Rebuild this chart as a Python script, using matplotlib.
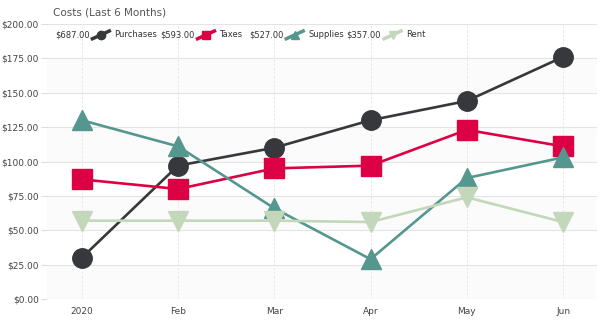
import numpy as np
import matplotlib.pyplot as plt
from matplotlib.lines import Line2D
from matplotlib.ticker import FuncFormatter

months = ['2020', 'Feb', 'Mar', 'Apr', 'May', 'Jun']
purchases = [30, 97, 110, 130, 144, 176]
taxes = [87, 80, 95, 97, 123, 111]
supplies = [130, 111, 66, 29, 88, 103]
rent = [57, 57, 57, 56, 74, 56]

series = [
    ('Purchases', purchases, '#36383c', 'o', 14),
    ('Taxes', taxes, '#dc0045', 's', 14),
    ('Supplies', supplies, '#55978f', '^', 15),
    ('Rent', rent, '#c3d7bb', 'v', 15),
]

fig = plt.figure(figsize=(6.04, 3.23), dpi=100)
ax = fig.add_axes([0.078, 0.074, 0.91, 0.852])
x = np.arange(len(months))

# faint alternating bands
for lo in range(0, 200, 50):
    ax.axhspan(lo, lo + 25, color='#fbfbfb', zorder=0, lw=0)

for name, vals, col, mk, ms in series:
    ax.plot(x, vals, color=col, lw=1.9, marker=mk, markersize=ms, zorder=3)

ax.set_xlim(-0.36, 5.35)
ax.set_ylim(0, 200)
ax.set_yticks(np.arange(0, 201, 25))
ax.yaxis.set_major_formatter(FuncFormatter(lambda v, p: f'${v:.2f}'))
ax.set_xticks(x)
ax.set_xticklabels(months)
ax.tick_params(axis='both', labelsize=6.5, colors='#444444', length=0, pad=6)
ax.tick_params(axis='y', length=4, color='#dddddd', pad=2)
ax.grid(axis='y', color='#e4e4e4', lw=0.8, zorder=1)
ax.grid(axis='x', color='#e6e6e6', lw=0.6, ls=(0, (3, 2)), zorder=1)
for s in ax.spines.values():
    s.set_visible(False)

fig.text(0.088, 0.945, 'Costs (Last 6 Months)', fontsize=7.5, color='#555555', va='bottom')

# legend row
lx = [0.091, 0.265, 0.412, 0.574]
ly = 0.892
for (name, vals, col, mk, ms), x0 in zip(series, lx):
    fig.text(x0, ly, f'${sum(vals):.2f}', fontsize=6, color='#333333', va='center')
    ix = x0 + 0.062
    fig.add_artist(Line2D([ix, ix + 0.028], [ly - 0.012, ly + 0.012], color=col, lw=2.5,
                          transform=fig.transFigure))
    fig.add_artist(Line2D([ix + 0.014], [ly], color=col, marker=mk, markersize=6,
                          transform=fig.transFigure))
    fig.text(ix + 0.036, ly, name, fontsize=6, color='#333333', va='center')

fig.savefig('out.png', dpi=100, facecolor='white')
